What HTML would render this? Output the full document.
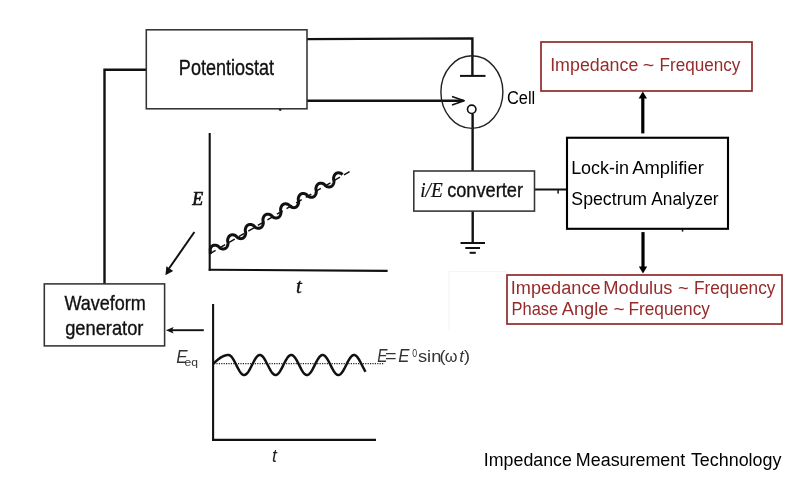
<!DOCTYPE html>
<html><head><meta charset="utf-8">
<style>
html,body{margin:0;padding:0;background:#fff;}
body{width:800px;height:500px;overflow:hidden;}
svg{display:block;will-change:transform;}


</style></head>
<body>
<svg width="800" height="500" viewBox="0 0 800 500">
<rect x="0" y="0" width="800" height="500" fill="#fff"/>

<!-- ===== scanned wiring ===== -->
<g fill="none" stroke="#111" stroke-width="2.4" stroke-linecap="butt" stroke-linejoin="miter">
  <!-- potentiostat -> waveform generator -->
  <polyline points="146.3,69.8 104.5,69.8 104.5,283.9"/>
  <!-- potentiostat top -> cell electrode -->
  <polyline points="307,39.1 472.4,38.4 472.4,75.9"/>
  <!-- potentiostat bottom -> arrow into cell -->
  <line x1="307" y1="100.7" x2="463.5" y2="100.7"/>
  <!-- cell -> i/E -->
  <line x1="472.6" y1="113.6" x2="472.6" y2="171"/>
  <!-- i/E -> ground -->
  <line x1="472.7" y1="211.1" x2="472.7" y2="243"/>
  <!-- i/E -> lock-in -->
  <line x1="534.4" y1="189.5" x2="567" y2="189.5" stroke-width="2.2"/>
</g>
<!-- ground -->
<g stroke="#111" stroke-width="2">
  <line x1="460.5" y1="243" x2="485" y2="243"/>
  <line x1="465.3" y1="248" x2="480" y2="248"/>
  <line x1="469.6" y1="252.8" x2="475.8" y2="252.8"/>
</g>
<!-- electrode bar -->
<line x1="460" y1="75.9" x2="485.5" y2="75.9" stroke="#111" stroke-width="2"/>
<!-- arrow head into cell (open chevron) -->
<polyline points="452,96.5 464.2,100.7 452,104.9" fill="none" stroke="#111" stroke-width="1.6" stroke-linejoin="round"/>
<!-- cell ellipse -->
<ellipse cx="471.9" cy="92.1" rx="31" ry="36.3" fill="none" stroke="#222" stroke-width="1.4"/>
<!-- small circle -->
<circle cx="471.7" cy="109.3" r="4.2" fill="#fff" stroke="#111" stroke-width="1.6"/>
<circle cx="280.2" cy="109.6" r="1.3" fill="#111"/>
<!-- faint pasted-image outline -->
<polyline points="449,330.5 449,271.5 506,271.5" fill="none" stroke="#f7f3ef" stroke-width="1"/>
<!-- little tick on i/E lock-in wire -->
<rect x="557.3" y="190" width="1.6" height="3.6" fill="#222"/>

<!-- scanned boxes -->
<g fill="none" stroke="#333" stroke-width="1.55">
  <rect x="146.3" y="29.8" width="160.7" height="79"/>
  <rect x="413.8" y="171" width="120.7" height="40.1"/>
  <rect x="44.3" y="283.9" width="120.3" height="62"/>
</g>

<!-- graph 1 -->
<g fill="none" stroke="#111" stroke-width="2.1">
  <line x1="209.7" y1="133" x2="209.7" y2="270.7"/>
  <line x1="208.7" y1="269.7" x2="387.6" y2="270.9"/>
</g>
<line x1="210" y1="253.6" x2="351.5" y2="170.4" stroke="#111" stroke-width="1.5" stroke-dasharray="6.5 4.6"/>
<path d="M210.35 254.04 L210.37 253.22 L210.30 248.82 L210.48 248.32 L210.69 247.87 L210.91 247.45 L211.15 247.08 L211.41 246.73 L211.68 246.42 L211.97 246.15 L212.28 245.90 L212.61 245.69 L212.95 245.52 L213.31 245.38 L213.69 245.27 L214.08 245.19 L214.49 245.15 L214.92 245.14 L215.37 245.17 L215.84 245.24 L216.32 245.35 L216.84 245.52 L217.39 245.75 L217.99 246.08 L218.73 246.70 L219.75 247.86 L220.38 248.26 L220.95 248.52 L221.47 248.70 L221.97 248.83 L222.44 248.91 L222.90 248.96 L223.33 248.96 L223.75 248.93 L224.15 248.87 L224.53 248.77 L224.89 248.64 L225.24 248.48 L225.58 248.28 L225.89 248.05 L226.19 247.78 L226.47 247.49 L226.74 247.15 L226.98 246.79 L227.21 246.39 L227.42 245.95 L227.61 245.47 L227.78 244.94 L227.91 244.36 L228.01 243.69 L228.03 242.87 L227.64 241.26 L227.61 240.33 L227.68 239.63 L227.81 239.02 L227.97 238.48 L228.15 237.98 L228.35 237.53 L228.57 237.11 L228.81 236.74 L229.07 236.39 L229.35 236.09 L229.64 235.81 L229.95 235.57 L230.28 235.36 L230.62 235.18 L230.98 235.04 L231.36 234.93 L231.75 234.86 L232.16 234.82 L232.59 234.81 L233.04 234.84 L233.51 234.91 L233.99 235.02 L234.51 235.19 L235.06 235.42 L235.66 235.76 L236.41 236.39 L237.43 237.54 L238.05 237.93 L238.62 238.19 L239.14 238.37 L239.64 238.50 L240.11 238.58 L240.56 238.63 L241.00 238.63 L241.42 238.60 L241.81 238.54 L242.20 238.44 L242.56 238.31 L242.91 238.14 L243.24 237.94 L243.56 237.71 L243.85 237.45 L244.14 237.15 L244.40 236.82 L244.65 236.45 L244.88 236.05 L245.08 235.61 L245.27 235.13 L245.44 234.60 L245.57 234.01 L245.67 233.35 L245.69 232.52 L245.30 230.90 L245.27 229.98 L245.35 229.28 L245.47 228.68 L245.63 228.14 L245.81 227.64 L246.01 227.19 L246.24 226.78 L246.48 226.40 L246.74 226.06 L247.01 225.75 L247.31 225.47 L247.62 225.23 L247.94 225.02 L248.29 224.85 L248.65 224.71 L249.02 224.60 L249.42 224.53 L249.83 224.49 L250.26 224.48 L250.71 224.51 L251.17 224.58 L251.66 224.70 L252.18 224.86 L252.73 225.09 L253.33 225.43 L254.09 226.08 L255.10 227.22 L255.73 227.61 L256.29 227.86 L256.81 228.04 L257.31 228.17 L257.78 228.25 L258.23 228.30 L258.67 228.30 L259.08 228.27 L259.48 228.20 L259.86 228.10 L260.23 227.97 L260.58 227.81 L260.91 227.61 L261.22 227.38 L261.52 227.11 L261.80 226.81 L262.07 226.48 L262.31 226.11 L262.54 225.71 L262.75 225.27 L262.94 224.78 L263.10 224.26 L263.24 223.67 L263.33 223.00 L263.34 222.17 L262.96 220.55 L262.93 219.64 L263.01 218.94 L263.13 218.34 L263.29 217.79 L263.47 217.30 L263.68 216.85 L263.90 216.44 L264.14 216.06 L264.40 215.72 L264.68 215.41 L264.97 215.14 L265.28 214.90 L265.61 214.69 L265.95 214.52 L266.31 214.37 L266.69 214.27 L267.09 214.19 L267.50 214.15 L267.93 214.15 L268.38 214.18 L268.84 214.25 L269.33 214.37 L269.85 214.53 L270.40 214.77 L271.01 215.11 L271.77 215.78 L272.77 216.90 L273.40 217.28 L273.96 217.54 L274.48 217.72 L274.98 217.84 L275.45 217.92 L275.90 217.96 L276.34 217.97 L276.75 217.94 L277.15 217.87 L277.53 217.77 L277.90 217.64 L278.24 217.47 L278.57 217.27 L278.89 217.04 L279.19 216.77 L279.47 216.47 L279.73 216.14 L279.98 215.77 L280.20 215.37 L280.41 214.93 L280.60 214.44 L280.76 213.91 L280.90 213.33 L280.99 212.65 L281.00 211.82 L280.61 210.19 L280.59 209.29 L280.67 208.60 L280.80 207.99 L280.96 207.45 L281.14 206.96 L281.34 206.51 L281.57 206.10 L281.81 205.72 L282.07 205.38 L282.35 205.07 L282.64 204.80 L282.95 204.56 L283.28 204.35 L283.62 204.18 L283.98 204.04 L284.36 203.93 L284.75 203.86 L285.17 203.82 L285.60 203.82 L286.05 203.85 L286.51 203.92 L287.00 204.04 L287.52 204.21 L288.07 204.44 L288.68 204.79 L289.46 205.48 L290.45 206.58 L291.07 206.96 L291.63 207.21 L292.15 207.39 L292.65 207.51 L293.12 207.59 L293.57 207.63 L294.00 207.64 L294.42 207.60 L294.82 207.54 L295.20 207.44 L295.56 207.30 L295.91 207.14 L296.24 206.94 L296.56 206.70 L296.85 206.44 L297.13 206.14 L297.40 205.80 L297.64 205.43 L297.87 205.03 L298.08 204.59 L298.26 204.10 L298.43 203.57 L298.56 202.98 L298.65 202.31 L298.66 201.47 L298.27 199.84 L298.25 198.95 L298.33 198.25 L298.46 197.65 L298.62 197.11 L298.80 196.62 L299.01 196.17 L299.23 195.76 L299.47 195.38 L299.73 195.04 L300.01 194.74 L300.30 194.47 L300.62 194.23 L300.94 194.02 L301.29 193.85 L301.65 193.71 L302.03 193.60 L302.42 193.53 L302.84 193.49 L303.27 193.49 L303.71 193.52 L304.18 193.59 L304.67 193.71 L305.19 193.88 L305.74 194.12 L306.35 194.47 L307.14 195.18 L308.12 196.26 L308.74 196.63 L309.30 196.88 L309.82 197.06 L310.32 197.18 L310.79 197.26 L311.24 197.30 L311.67 197.31 L312.09 197.27 L312.49 197.21 L312.87 197.10 L313.23 196.97 L313.58 196.80 L313.91 196.60 L314.22 196.37 L314.52 196.10 L314.80 195.80 L315.06 195.46 L315.31 195.09 L315.53 194.69 L315.74 194.25 L315.93 193.76 L316.09 193.23 L316.22 192.64 L316.31 191.96 L316.32 191.12 L315.93 189.49 L315.91 188.60 L315.99 187.91 L316.12 187.31 L316.28 186.77 L316.47 186.28 L316.67 185.83 L316.90 185.42 L317.14 185.05 L317.40 184.71 L317.68 184.40 L317.97 184.13 L318.28 183.89 L318.61 183.68 L318.96 183.51 L319.32 183.37 L319.70 183.27 L320.09 183.20 L320.50 183.16 L320.93 183.16 L321.38 183.19 L321.85 183.26 L322.34 183.38 L322.86 183.55 L323.41 183.79 L324.02 184.14 L324.83 184.88 L325.79 185.93 L326.41 186.31 L326.97 186.55 L327.49 186.73 L327.98 186.85 L328.46 186.93 L328.91 186.97 L329.34 186.97 L329.76 186.94 L330.15 186.87 L330.53 186.77 L330.90 186.64 L331.24 186.47 L331.57 186.27 L331.89 186.03 L332.18 185.76 L332.46 185.46 L332.73 185.13 L332.97 184.76 L333.20 184.35 L333.40 183.91 L333.59 183.42 L333.75 182.89 L333.89 182.29 L333.98 181.62 L333.98 180.77 L333.58 179.13 L333.57 178.25 L333.66 177.57 L333.79 176.97 L333.95 176.43 L334.13 175.94 L334.34 175.49 L334.56 175.08 L334.80 174.71 L335.06 174.37 L335.34 174.06 L335.64 173.79 L335.95 173.55 L336.28 173.35 L336.62 173.18 L336.98 173.04 L337.36 172.94 L337.76 172.86 L338.17 172.83 L338.60 172.83 L339.05 172.86 L339.52 172.94 L340.01 173.05 L340.53 173.23 L341.09 173.47 L341.70 173.82 L342.52 174.59" fill="none" stroke="#111" stroke-width="3.0" stroke-linejoin="round"/>
<!-- diagonal arrow -->
<line x1="194.4" y1="232" x2="169" y2="268.5" stroke="#111" stroke-width="2"/>
<polygon points="165.4,275.2 166.4,266.2 173.2,271" fill="#111"/>

<!-- graph 2 -->
<g fill="none" stroke="#111" stroke-width="2.1">
  <line x1="213.1" y1="304" x2="213.1" y2="440.9"/>
  <line x1="212.1" y1="439.9" x2="376" y2="439.9"/>
</g>
<line x1="214" y1="363.6" x2="384.5" y2="363.6" stroke="#222" stroke-width="1.1" stroke-dasharray="1.2 1.2"/>
<path d="M213.00 364.00 L213.38 363.64 L213.76 363.28 L214.15 362.92 L214.53 362.57 L214.91 362.22 L215.29 361.87 L215.68 361.53 L216.06 361.19 L216.44 360.85 L216.82 360.52 L217.21 360.20 L217.59 359.89 L217.97 359.58 L218.35 359.27 L218.74 358.98 L219.12 358.69 L219.50 358.41 L219.88 358.14 L220.27 357.88 L220.65 357.63 L221.03 357.39 L221.41 357.16 L221.80 356.94 L222.18 356.73 L222.56 356.53 L222.94 356.34 L223.33 356.17 L223.71 356.00 L224.09 355.85 L224.47 355.71 L224.86 355.58 L225.24 355.46 L225.62 355.36 L226.00 355.27 L226.39 355.19 L226.77 355.13 L227.15 355.08 L227.53 355.04 L227.92 355.01 L228.30 355.00 L228.68 355.01 L229.06 355.08 L229.45 355.20 L229.83 355.38 L230.21 355.61 L230.59 355.91 L230.98 356.25 L231.36 356.65 L231.74 357.09 L232.12 357.58 L232.51 358.12 L232.89 358.69 L233.27 359.30 L233.65 359.95 L234.04 360.62 L234.42 361.32 L234.80 362.04 L235.18 362.78 L235.56 363.53 L235.95 364.29 L236.33 365.06 L236.71 365.82 L237.09 366.58 L237.48 367.33 L237.86 368.07 L238.24 368.79 L238.62 369.49 L239.01 370.16 L239.39 370.80 L239.77 371.40 L240.15 371.97 L240.54 372.50 L240.92 372.98 L241.30 373.42 L241.68 373.81 L242.07 374.14 L242.45 374.43 L242.83 374.65 L243.21 374.83 L243.60 374.94 L243.98 374.99 L244.36 374.99 L244.74 374.93 L245.13 374.81 L245.51 374.63 L245.89 374.40 L246.27 374.11 L246.66 373.77 L247.04 373.38 L247.42 372.93 L247.80 372.44 L248.19 371.91 L248.57 371.34 L248.95 370.73 L249.33 370.09 L249.72 369.41 L250.10 368.71 L250.48 367.99 L250.86 367.26 L251.25 366.50 L251.63 365.74 L252.01 364.98 L252.39 364.21 L252.78 363.45 L253.16 362.70 L253.54 361.97 L253.92 361.25 L254.31 360.55 L254.69 359.88 L255.07 359.24 L255.45 358.63 L255.84 358.06 L256.22 357.53 L256.60 357.04 L256.98 356.60 L257.36 356.21 L257.75 355.87 L258.13 355.59 L258.51 355.36 L258.89 355.18 L259.28 355.07 L259.66 355.01 L260.04 355.01 L260.42 355.07 L260.81 355.18 L261.19 355.36 L261.57 355.59 L261.95 355.87 L262.34 356.21 L262.72 356.60 L263.10 357.04 L263.48 357.53 L263.87 358.06 L264.25 358.63 L264.63 359.24 L265.01 359.88 L265.40 360.55 L265.78 361.25 L266.16 361.97 L266.54 362.71 L266.93 363.46 L267.31 364.22 L267.69 364.98 L268.07 365.75 L268.46 366.51 L268.84 367.26 L269.22 368.00 L269.60 368.72 L269.99 369.42 L270.37 370.09 L270.75 370.73 L271.13 371.34 L271.52 371.91 L271.90 372.45 L272.28 372.94 L272.66 373.38 L273.05 373.77 L273.43 374.11 L273.81 374.40 L274.19 374.63 L274.58 374.81 L274.96 374.93 L275.34 374.99 L275.72 374.99 L276.11 374.94 L276.49 374.82 L276.87 374.65 L277.25 374.43 L277.64 374.14 L278.02 373.81 L278.40 373.42 L278.78 372.98 L279.16 372.50 L279.55 371.97 L279.93 371.40 L280.31 370.79 L280.69 370.15 L281.08 369.48 L281.46 368.79 L281.84 368.07 L282.22 367.33 L282.61 366.58 L282.99 365.82 L283.37 365.06 L283.75 364.29 L284.14 363.53 L284.52 362.78 L284.90 362.04 L285.28 361.32 L285.67 360.62 L286.05 359.94 L286.43 359.30 L286.81 358.69 L287.20 358.11 L287.58 357.58 L287.96 357.09 L288.34 356.64 L288.73 356.25 L289.11 355.90 L289.49 355.61 L289.87 355.38 L290.26 355.20 L290.64 355.07 L291.02 355.01 L291.40 355.00 L291.79 355.06 L292.17 355.17 L292.55 355.34 L292.93 355.56 L293.32 355.84 L293.70 356.18 L294.08 356.56 L294.46 357.00 L294.85 357.48 L295.23 358.00 L295.61 358.57 L295.99 359.18 L296.38 359.81 L296.76 360.48 L297.14 361.18 L297.52 361.90 L297.91 362.63 L298.29 363.38 L298.67 364.14 L299.05 364.91 L299.44 365.67 L299.82 366.43 L300.20 367.18 L300.58 367.92 L300.96 368.65 L301.35 369.35 L301.73 370.02 L302.11 370.67 L302.49 371.28 L302.88 371.86 L303.26 372.40 L303.64 372.89 L304.02 373.33 L304.41 373.73 L304.79 374.08 L305.17 374.37 L305.55 374.61 L305.94 374.80 L306.32 374.92 L306.70 374.99 L307.08 375.00 L307.47 374.95 L307.85 374.84 L308.23 374.67 L308.61 374.45 L309.00 374.17 L309.38 373.84 L309.76 373.46 L310.14 373.03 L310.53 372.55 L310.91 372.02 L311.29 371.46 L311.67 370.86 L312.06 370.22 L312.44 369.55 L312.82 368.86 L313.20 368.14 L313.59 367.41 L313.97 366.66 L314.35 365.90 L314.73 365.13 L315.12 364.37 L315.50 363.61 L315.88 362.85 L316.26 362.11 L316.65 361.39 L317.03 360.69 L317.41 360.01 L317.79 359.36 L318.18 358.75 L318.56 358.17 L318.94 357.63 L319.32 357.14 L319.71 356.69 L320.09 356.29 L320.47 355.94 L320.85 355.64 L321.24 355.40 L321.62 355.21 L322.00 355.08 L322.38 355.01 L322.76 355.00 L323.15 355.05 L323.53 355.15 L323.91 355.32 L324.29 355.54 L324.68 355.81 L325.06 356.14 L325.44 356.52 L325.82 356.95 L326.21 357.43 L326.59 357.95 L326.97 358.51 L327.35 359.11 L327.74 359.75 L328.12 360.41 L328.50 361.11 L328.88 361.82 L329.27 362.56 L329.65 363.31 L330.03 364.06 L330.41 364.83 L330.80 365.59 L331.18 366.35 L331.56 367.11 L331.94 367.85 L332.33 368.57 L332.71 369.28 L333.09 369.96 L333.47 370.61 L333.86 371.22 L334.24 371.80 L334.62 372.34 L335.00 372.84 L335.39 373.29 L335.77 373.70 L336.15 374.05 L336.53 374.35 L336.92 374.59 L337.30 374.78 L337.68 374.91 L338.06 374.98 L338.45 375.00 L338.83 374.95 L339.21 374.85 L339.59 374.69 L339.98 374.48 L340.36 374.20 L340.74 373.88 L341.12 373.50 L341.51 373.07 L341.89 372.60 L342.27 372.08 L342.65 371.52 L343.04 370.92 L343.42 370.28 L343.80 369.62 L344.18 368.93 L344.56 368.21 L344.95 367.48 L345.33 366.73 L345.71 365.97 L346.09 365.21 L346.48 364.45 L346.86 363.68 L347.24 362.93 L347.62 362.19 L348.01 361.46 L348.39 360.76 L348.77 360.08 L349.15 359.43 L349.54 358.81 L349.92 358.23 L350.30 357.68 L350.68 357.18 L351.07 356.73 L351.45 356.32 L351.83 355.97 L352.21 355.67 L352.60 355.42 L352.98 355.23 L353.36 355.09 L353.74 355.02 L354.13 355.00 L354.51 355.04 L354.89 355.14 L355.27 355.30 L355.66 355.51 L356.04 355.78 L356.42 356.10 L356.80 356.48 L357.19 356.91 L357.57 357.38 L357.95 357.89 L358.33 358.45 L358.72 359.05 L359.10 359.68 L359.48 360.35 L359.86 361.04 L360.25 361.75 L360.63 362.48 L361.01 363.23 L361.39 363.99 L361.78 364.75 L362.16 365.52 L362.54 366.28 L362.92 367.03 L363.31 367.78 L363.69 368.50 L364.07 369.21 L364.45 369.89 L364.84 370.54 L365.22 371.16 L365.60 371.75" fill="none" stroke="#111" stroke-width="2.5" stroke-linejoin="round"/>
<!-- left arrow into waveform generator -->
<line x1="203.8" y1="330.2" x2="172" y2="330.2" stroke="#111" stroke-width="1.9"/>
<polygon points="165.9,330.2 173.6,326.9 172,330.2 173.6,333.6" fill="#111"/>

<!-- ===== right side (slide) ===== -->
<rect x="541" y="42" width="211" height="49" fill="none" stroke="#922828" stroke-width="1.7"/>
<rect x="507" y="275" width="275" height="49" fill="none" stroke="#922828" stroke-width="1.7"/>
<rect x="567" y="137.75" width="161" height="91.05" fill="none" stroke="#000" stroke-width="2.1"/>
<rect x="681.8" y="229" width="1.5" height="2.6" fill="#111"/>
<!-- up arrow -->
<line x1="642.8" y1="133.4" x2="642.8" y2="97" stroke="#000" stroke-width="3.2"/>
<polygon points="642.8,91.4 647,98.4 638.6,98.4" fill="#000"/>
<!-- down arrow -->
<line x1="643" y1="232.1" x2="643" y2="268" stroke="#000" stroke-width="3.2"/>
<polygon points="643,273.6 647.2,266.6 638.8,266.6" fill="#000"/>

<!-- ===== text ===== -->
<text x="178.86" y="75.2" style='font-family:"Liberation Sans", sans-serif' font-size="22.0" fill="#111" stroke="#111" stroke-width="0.35"  textLength="95.19" lengthAdjust="spacingAndGlyphs">Potentiostat</text>
<text x="64.46" y="309.8" style='font-family:"Liberation Sans", sans-serif' font-size="20.2" fill="#111" stroke="#111" stroke-width="0.35"  textLength="81.40" lengthAdjust="spacingAndGlyphs">Waveform</text>
<text x="65.14" y="334.5" style='font-family:"Liberation Sans", sans-serif' font-size="20.2" fill="#111" stroke="#111" stroke-width="0.35"  textLength="78.26" lengthAdjust="spacingAndGlyphs">generator</text>
<text x="447.16" y="197.2" style='font-family:"Liberation Sans", sans-serif' font-size="21.0" fill="#111" stroke="#111" stroke-width="0.35"  textLength="75.85" lengthAdjust="spacingAndGlyphs">converter</text>
<text x="420.15" y="197.0" style='font-family:"Liberation Serif", serif' font-size="21.0" font-style="italic" fill="#111" stroke="#111" stroke-width="0.2"  textLength="22.57" lengthAdjust="spacingAndGlyphs">i/E</text>
<text x="192.26" y="205.0" style='font-family:"Liberation Serif", serif' font-size="19.2" font-style="italic" fill="#111" stroke="#111" stroke-width="0.7"  textLength="10.91" lengthAdjust="spacingAndGlyphs">E</text>
<text x="296.10" y="293.4" style='font-family:"Liberation Serif", serif' font-size="21.0" font-style="italic" fill="#111" stroke="#111" stroke-width="0.4"  textLength="5.75" lengthAdjust="spacingAndGlyphs">t</text>
<text x="506.90" y="104.3" style='font-family:"Liberation Sans", sans-serif' font-size="19.2" fill="#000"  textLength="28.32" lengthAdjust="spacingAndGlyphs">Cell</text>
<text x="571.13" y="174.0" style='font-family:"Liberation Sans", sans-serif' font-size="19.2" fill="#000"  textLength="57.96" lengthAdjust="spacingAndGlyphs">Lock-in</text>
<text x="632.18" y="174.0" style='font-family:"Liberation Sans", sans-serif' font-size="19.2" fill="#000"  textLength="71.62" lengthAdjust="spacingAndGlyphs">Amplifier</text>
<text x="571.36" y="204.6" style='font-family:"Liberation Sans", sans-serif' font-size="19.2" fill="#000"  textLength="75.76" lengthAdjust="spacingAndGlyphs">Spectrum</text>
<text x="651.31" y="204.6" style='font-family:"Liberation Sans", sans-serif' font-size="19.2" fill="#000"  textLength="67.33" lengthAdjust="spacingAndGlyphs">Analyzer</text>
<text x="483.85" y="466.4" style='font-family:"Liberation Sans", sans-serif' font-size="19.2" fill="#000"  textLength="88.01" lengthAdjust="spacingAndGlyphs">Impedance</text>
<text x="575.87" y="466.4" style='font-family:"Liberation Sans", sans-serif' font-size="19.2" fill="#000"  textLength="109.36" lengthAdjust="spacingAndGlyphs">Measurement</text>
<text x="690.92" y="466.4" style='font-family:"Liberation Sans", sans-serif' font-size="19.2" fill="#000"  textLength="90.49" lengthAdjust="spacingAndGlyphs">Technology</text>
<text x="550.18" y="71.4" style='font-family:"Liberation Sans", sans-serif' font-size="19.2" fill="#962B2B"  textLength="88.19" lengthAdjust="spacingAndGlyphs">Impedance</text>
<text x="642.68" y="71.4" style='font-family:"Liberation Sans", sans-serif' font-size="19.2" fill="#962B2B"  textLength="11.47" lengthAdjust="spacingAndGlyphs">~</text>
<text x="659.53" y="71.4" style='font-family:"Liberation Sans", sans-serif' font-size="19.2" fill="#962B2B"  textLength="80.87" lengthAdjust="spacingAndGlyphs">Frequency</text>
<text x="510.77" y="293.7" style='font-family:"Liberation Sans", sans-serif' font-size="19.2" fill="#962B2B"  textLength="89.81" lengthAdjust="spacingAndGlyphs">Impedance</text>
<text x="603.36" y="293.7" style='font-family:"Liberation Sans", sans-serif' font-size="19.2" fill="#962B2B"  textLength="69.12" lengthAdjust="spacingAndGlyphs">Modulus</text>
<text x="677.96" y="293.7" style='font-family:"Liberation Sans", sans-serif' font-size="19.2" fill="#962B2B"  textLength="10.71" lengthAdjust="spacingAndGlyphs">~</text>
<text x="693.88" y="293.7" style='font-family:"Liberation Sans", sans-serif' font-size="19.2" fill="#962B2B"  textLength="81.56" lengthAdjust="spacingAndGlyphs">Frequency</text>
<text x="511.51" y="315.1" style='font-family:"Liberation Sans", sans-serif' font-size="19.2" fill="#962B2B"  textLength="46.75" lengthAdjust="spacingAndGlyphs">Phase</text>
<text x="561.75" y="315.1" style='font-family:"Liberation Sans", sans-serif' font-size="19.2" fill="#962B2B"  textLength="46.57" lengthAdjust="spacingAndGlyphs">Angle</text>
<text x="613.40" y="315.1" style='font-family:"Liberation Sans", sans-serif' font-size="19.2" fill="#962B2B"  textLength="11.14" lengthAdjust="spacingAndGlyphs">~</text>
<text x="628.43" y="315.1" style='font-family:"Liberation Sans", sans-serif' font-size="19.2" fill="#962B2B"  textLength="81.57" lengthAdjust="spacingAndGlyphs">Frequency</text>
<text x="176.24" y="363.2" style='font-family:"Liberation Sans", sans-serif' font-size="18.2" font-style="italic" fill="#333"  textLength="11.34" lengthAdjust="spacingAndGlyphs">E</text>
<text x="184.61" y="365.8" style='font-family:"Liberation Sans", sans-serif' font-size="10.5" fill="#333"  textLength="13.50" lengthAdjust="spacingAndGlyphs">eq</text>
<text x="377.25" y="362.3" style='font-family:"Liberation Sans", sans-serif' font-size="17.5" font-style="italic" fill="#333"  textLength="10.21" lengthAdjust="spacingAndGlyphs">E</text>
<text x="385.07" y="362.3" style='font-family:"Liberation Sans", sans-serif' font-size="17.5" fill="#333"  textLength="11.58" lengthAdjust="spacingAndGlyphs">=</text>
<text x="398.14" y="362.3" style='font-family:"Liberation Sans", sans-serif' font-size="17.5" font-style="italic" fill="#333"  textLength="11.16" lengthAdjust="spacingAndGlyphs">E</text>
<text x="412.13" y="357.4" style='font-family:"Liberation Sans", sans-serif' font-size="10.0" fill="#333"  textLength="4.86" lengthAdjust="spacingAndGlyphs">0</text>
<text x="417.93" y="362.3" style='font-family:"Liberation Sans", sans-serif' font-size="16.2" fill="#333"  textLength="23.39" lengthAdjust="spacingAndGlyphs">sin</text>
<text x="439.52" y="362.3" style='font-family:"Liberation Sans", sans-serif' font-size="16.5" fill="#333"  textLength="5.98" lengthAdjust="spacingAndGlyphs">(</text>
<text x="444.82" y="362.3" style='font-family:"Liberation Sans", sans-serif' font-size="16.5" fill="#333"  textLength="12.69" lengthAdjust="spacingAndGlyphs">ω</text>
<text x="459.26" y="362.3" style='font-family:"Liberation Sans", sans-serif' font-size="16.5" font-style="italic" fill="#333"  textLength="4.72" lengthAdjust="spacingAndGlyphs">t</text>
<text x="463.94" y="362.3" style='font-family:"Liberation Sans", sans-serif' font-size="16.5" fill="#333"  textLength="6.01" lengthAdjust="spacingAndGlyphs">)</text>
<text x="271.97" y="461.8" style='font-family:"Liberation Sans", sans-serif' font-size="17.5" font-style="italic" fill="#222" >t</text>
</svg>
</body></html>
